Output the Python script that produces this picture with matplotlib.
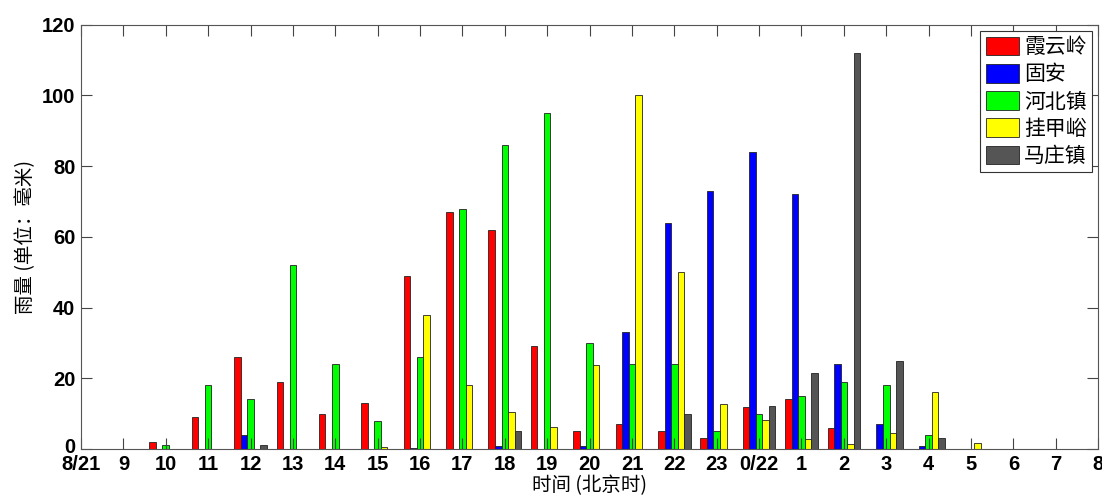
import numpy as np
import matplotlib
matplotlib.use('Agg')
from matplotlib import pyplot as plt
from matplotlib import transforms

plt.rcParams['font.family'] = ['Liberation Sans', 'Noto Sans CJK SC', 'DejaVu Sans']

# hours from 8/21 08:00 to 8/22 08:00
hours = ['8/21', '9', '10', '11', '12', '13', '14', '15', '16', '17', '18', '19',
         '20', '21', '22', '23', '0/22', '1', '2', '3', '4', '5', '6', '7', '8']

stations = ['霞云岭', '固安', '河北镇', '挂甲峪', '马庄镇']

# rainfall (mm), one value per hour
xiayunling = [0, 0, 2, 9, 26, 19, 10, 13, 49, 67, 62, 29, 5, 7, 5, 3, 12, 14, 6, 0, 0, 0, 0, 0, 0]
guan       = [0, 0, 0, 0, 4, 0, 0, 0, 0.3, 0, 0.7, 0, 0.7, 33, 64, 73, 84, 72, 24, 7, 0.8, 0, 0, 0, 0]
hebeizhen  = [0, 0, 1, 18, 14, 52, 24, 8, 26, 68, 86, 95, 30, 24, 24, 5, 10, 15, 19, 18, 4, 0, 0, 0, 0]
guajiayu   = [0, 0, 0, 0, 0, 0, 0, 0.5, 38, 18, 10.4, 6.2, 23.7, 100, 50, 12.7, 8.2, 2.7, 1.3, 4.5, 16, 1.6, 0, 0, 0]
mazhuang   = [0, 0, 0, 0, 1.2, 0, 0, 0, 0, 0, 5.1, 0, 0, 0, 10, 0, 12.2, 21.4, 112, 25, 3, 0, 0, 0, 0]

series = [xiayunling, guan, hebeizhen, guajiayu, mazhuang]
colors = ['#ff0000', '#0000ff', '#00ff00', '#ffff00', '#555555']

fig = plt.figure(figsize=(11.02, 4.95), dpi=100)
ax = fig.add_axes([0.0735, 0.093, 0.923, 0.857])

x = np.arange(len(hours))
w = 0.154
for i, (vals, c) in enumerate(zip(series, colors)):
    ax.bar(x + (i - 2) * w, vals, w, color=c, edgecolor='#222222', linewidth=0.6,
           label=stations[i])

ax.set_xlim(0, 24)
ax.set_ylim(0, 120)
ax.set_xticks(x)
ax.set_xticklabels(hours)
ax.set_yticks(np.arange(0, 121, 20))
ax.tick_params(direction='in', length=8, top=True, right=True, labelsize=14.5, pad=4,
               color='#444444')
ax.tick_params(axis='x', pad=4)
for lbl in ax.get_xticklabels() + ax.get_yticklabels():
    lbl.set_fontweight('bold')
# the "0" sits a little higher so it does not run into "8/21"
ylab0 = ax.get_yticklabels()[0]
ylab0.set_transform(ylab0.get_transform() + transforms.ScaledTranslation(0, 3 / 100, fig.dpi_scale_trans))
for s in ax.spines.values():
    s.set_color('#555555')

ax.set_xlabel('时间 (北京时)', fontsize=14, labelpad=1, family=['Noto Sans CJK SC', 'DejaVu Sans'])
ax.set_ylabel('雨量 (单位：毫米)', fontsize=14, labelpad=4, family=['Noto Sans CJK SC', 'DejaVu Sans'])

leg = ax.legend(loc='upper right', fancybox=False, framealpha=1, edgecolor='#333333',
                prop={'family': 'Noto Sans CJK SC', 'size': 15},
                handlelength=1.6, handleheight=1.0, borderaxespad=0.3,
                labelspacing=0.25, handletextpad=0.25, borderpad=0.25)
leg.get_frame().set_linewidth(0.8)

plt.savefig('out.png', dpi=100)
